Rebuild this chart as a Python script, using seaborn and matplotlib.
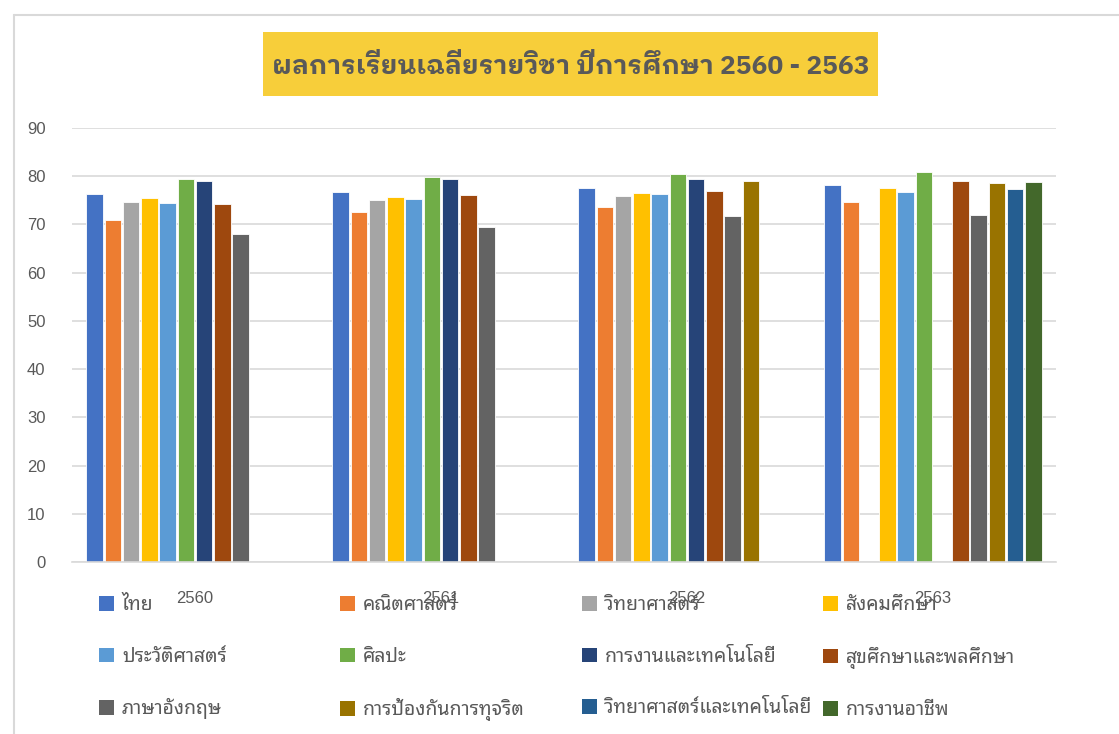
import matplotlib
matplotlib.use("Agg")
import matplotlib.pyplot as plt
import numpy as np
import pandas as pd
import seaborn as sns
from matplotlib.lines import Line2D
from matplotlib.patches import Patch, Rectangle

years = ["2560", "2561", "2562", "2563"]
subjects = [
    "ไทย", "คณิตศาสตร์", "วิทยาศาสตร์", "สังคมศึกษา",
    "ประวัติศาสตร์", "ศิลปะ", "การงานและเทคโนโลยี", "สุขศึกษาและพลศึกษา",
    "ภาษาอังกฤษ", "การป้องกันการทุจริต", "วิทยาศาสตร์และเทคโนโลยี", "การงานอาชีพ",
]
colors = [
    "#4472C4", "#ED7D31", "#A5A5A5", "#FFC000",
    "#5B9BD5", "#70AD47", "#264478", "#9E480E",
    "#636363", "#997300", "#255E91", "#43682B",
]
nan = np.nan
# one list per subject, values for 2560..2563
scores = {
    "ไทย": [76.3, 76.7, 77.5, 78.2],
    "คณิตศาสตร์": [71.0, 72.6, 73.7, 74.6],
    "วิทยาศาสตร์": [74.6, 75.1, 75.8, nan],
    "สังคมศึกษา": [75.4, 75.7, 76.5, 77.6],
    "ประวัติศาสตร์": [74.5, 75.3, 76.3, 76.7],
    "ศิลปะ": [79.4, 79.9, 80.5, 80.9],
    "การงานและเทคโนโลยี": [79.0, 79.4, 79.4, nan],
    "สุขศึกษาและพลศึกษา": [74.2, 76.2, 76.9, 79.0],
    "ภาษาอังกฤษ": [68.0, 69.4, 71.7, 71.9],
    "การป้องกันการทุจริต": [nan, nan, 79.0, 78.6],
    "วิทยาศาสตร์และเทคโนโลยี": [nan, nan, nan, 77.4],
    "การงานอาชีพ": [nan, nan, nan, 78.8],
}

THAI = ["Noto Sans Thai Looped", "DejaVu Sans"]
THAI_BOLD = ["IBM Plex Sans Thai Looped", "DejaVu Sans"]
GREY = "#595959"

rows = [(y, s, scores[s][i]) for s in subjects for i, y in enumerate(years)]
df = pd.DataFrame(rows, columns=["year", "subject", "score"])

sns.set_theme(style="white")
plt.rcParams["font.family"] = ["Liberation Sans", "DejaVu Sans"]

fig = plt.figure(figsize=(11.19, 7.34), dpi=100)
ax = fig.add_axes([72 / 1119, 1 - 562 / 734, 984 / 1119, 434 / 734])

sns.barplot(
    data=df, x="year", y="score", hue="subject",
    order=years, hue_order=subjects, palette=colors, saturation=1,
    width=0.89, gap=0.1, edgecolor="white", linewidth=0.6,
    legend=False, ax=ax,
)

ax.set_ylim(0, 90)
ax.set_xlim(-0.5, 3.5)
ax.set_yticks(range(0, 91, 10))
ax.yaxis.grid(True, color="#D9D9D9", linewidth=1.2)
ax.set_axisbelow(True)
for side in ["top", "right", "left"]:
    ax.spines[side].set_visible(False)
ax.spines["bottom"].set_color("#D9D9D9")
ax.spines["bottom"].set_linewidth(1.2)
ax.set_xlabel("")
ax.set_ylabel("")
ax.tick_params(axis="y", length=0, pad=19, labelsize=12, labelcolor=GREY)
# Excel drew the category labels right on top of the first legend row
ax.tick_params(axis="x", length=0, pad=21, labelsize=12, labelcolor=GREY)

# chart-area frame (partly cropped in the reference)
fig.add_artist(Line2D([14 / 1119, 1.01], [1 - 15 / 734] * 2, color="#D9D9D9", lw=1.5))
fig.add_artist(Line2D([14 / 1119] * 2, [-0.01, 1 - 15 / 734], color="#D9D9D9", lw=1.5))

# title box
fig.add_artist(Rectangle((263 / 1119, 1 - 96 / 734), 615 / 1119, 64 / 734,
                         facecolor="#F7CE3A", edgecolor="none"))
fig.text(571 / 1119, 1 - 66 / 734, "ผลการเรียนเฉลี่ยรายวิชา ปีการศึกษา 2560 - 2563",
         ha="center", va="center", fontsize=19, fontweight="bold",
         color=GREY, family=THAI_BOLD)

# legend: four columns, three rows, filled row by row
col_x = [99, 340, 582, 823]
for c in range(4):
    idx = [c, c + 4, c + 8]
    handles = [Patch(facecolor=colors[i], edgecolor="none") for i in idx]
    leg = fig.legend(
        handles, [subjects[i] for i in idx],
        loc="upper left", bbox_to_anchor=(col_x[c] / 1119, 1 - 595 / 734),
        frameon=False, ncol=1, handlelength=0.78, handleheight=0.78,
        handletextpad=0.4, labelspacing=1.63, borderaxespad=0, borderpad=0,
        prop={"family": THAI, "size": 14},
    )
    for t in leg.get_texts():
        t.set_color(GREY)

fig.savefig("out.png", dpi=100)
